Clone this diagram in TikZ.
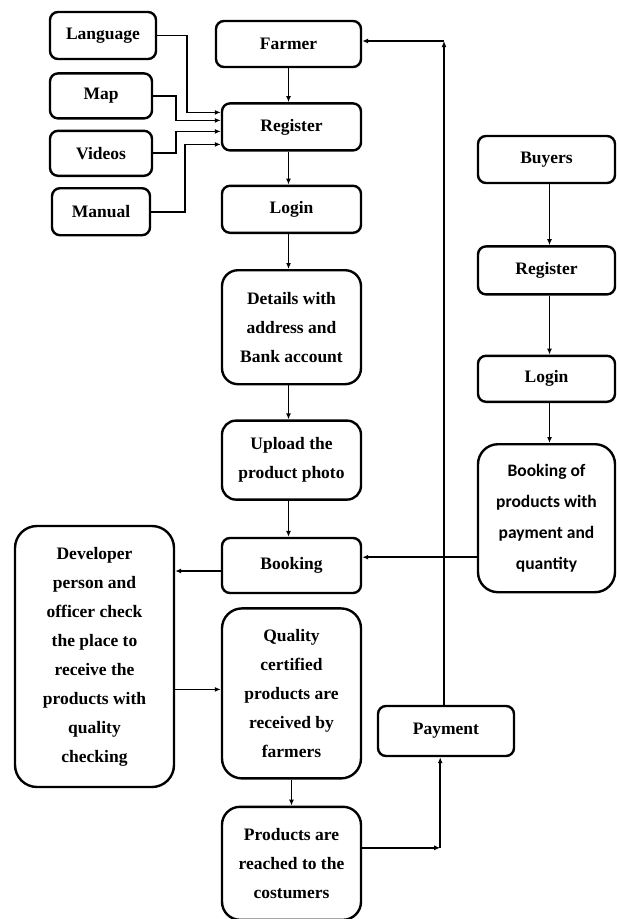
\documentclass[tikz,border=0pt]{standalone}
\usepackage{fontspec}
\setmainfont{Liberation Serif}
\newfontfamily\calfont{Carlito}
\usetikzlibrary{positioning,calc,arrows.meta}

\begin{document}
\begin{tikzpicture}[x=1pt,y=-1pt,
	box/.style={draw, line width=2.4pt, rounded corners=8pt, minimum width=139pt, minimum height=47pt,
		inner sep=2pt, align=center, font=\fontsize{17.5}{29}\selectfont\bfseries},
	tall/.style={box, rounded corners=20pt},
	conn/.style={line width=1.8pt, -{Latex[length=6pt,width=5pt]}}]
	\useasboundingbox (0,0) rectangle (617,919);

	% farmer side
	\node[box, minimum width=145pt, minimum height=46pt] (farmer) at (288.5,44) {Farmer};
	\node[box, below=34pt of farmer, xshift=3pt] (register) {Register};
	\node[box, below=33pt of register] (login) {Login};
	\node[tall, minimum height=114pt, rounded corners=16pt, below=35pt of login] (details) {Details with\\address and\\Bank account};
	\node[tall, minimum height=79pt, rounded corners=14pt, below=34pt of details] (upload) {Upload the\\product photo};
	\node[box, minimum height=55pt, below=36pt of upload] (booking) {Booking};
	\node[tall, minimum height=170pt, below=13pt of booking] (quality) {Quality\\certified\\products are\\received by\\farmers};
	\node[tall, minimum height=113pt, rounded corners=18pt, below=26pt of quality] (products) {Products are\\reached to the\\costumers};

	% help items
	\node[box, minimum width=106pt] (language) at (103,35.5) {Language};
	\node[box, minimum width=102pt, minimum height=45pt, below=12pt of language, xshift=-2pt] (map) {Map};
	\node[box, minimum width=102pt, minimum height=45pt, below=10pt of map] (videos) {Videos};
	\node[box, minimum width=98pt, below=10pt of videos] (manual) {Manual};

	\node[tall, minimum width=159pt, minimum height=261pt, rounded corners=22pt] (developer) at (94.5,656.5)
		{Developer\\person and\\officer check\\the place to\\receive the\\products with\\quality\\checking};
	\node[box, minimum width=136pt, minimum height=50pt] (payment) at (446,731) {Payment};

	% buyer side
	\node[box, minimum width=137pt] (buyers) at (546.5,159.5) {Buyers};
	\node[box, minimum width=137pt, minimum height=48pt, below=61pt of buyers] (bregister) {Register};
	\node[box, minimum width=137pt, minimum height=46pt, below=59pt of bregister] (blogin) {Login};
	\node[tall, minimum width=137pt, minimum height=148pt, below=40pt of blogin,
		font=\fontsize{17.5}{31}\selectfont\calfont\bfseries] (bbook) {Booking of\\products with\\payment and\\quantity};

	\coordinate (ret) at (444,41);
	\coordinate (bb) at ($(bbook.west)+(0,39)$);

	\draw[conn] (farmer.south -| register.north) ++(-3,0) -- ($(register.north)+(-3,0)$);
	\draw[conn] ($(register.south)+(-3,0)$) -- ($(login.north)+(-3,0)$);
	\draw[conn] ($(login.south)+(-3,0)$) -- ($(details.north)+(-3,0)$);
	\draw[conn] ($(details.south)+(-3,0)$) -- ($(upload.north)+(-3,0)$);
	\draw[conn] ($(upload.south)+(-3,0)$) -- ($(booking.north)+(-3,0)$);
	\draw[conn] (quality.south) -- (products.north);

	\draw[conn] (language.east) -- ++(30,0) |- ($(register.west)+(0,-14.5)$);
	\draw[conn] (map.east) -- ++(23,0) |- ($(register.west)+(0,-6.5)$);
	\draw[conn] (videos.east) -- ++(23,0) |- ($(register.west)+(0,4.5)$);
	\draw[conn] (manual.east) -- ++(34,0) |- ($(register.west)+(0,17.5)$);

	\draw[conn] ($(booking.west)+(0,5.5)$) -- ($(booking.west -| developer.east)+(0,5.5)$);
	\draw[conn] ($(quality.west -| developer.east)+(0,-4)$) -- ($(quality.west)+(0,-4)$);

	\draw[conn] ($(products.east)+(0,-15.5)$) -- ++(78,0) coordinate (pc);
	\draw[conn] (pc) -- (pc |- payment.south);
	\draw[conn] (payment.north -| ret) -- (ret);
	\draw[conn] (ret) -- (ret -| farmer.east);

	\draw[conn] ($(buyers.south)+(3,0)$) -- ($(bregister.north)+(3,0)$);
	\draw[conn] ($(bregister.south)+(3,0)$) -- ($(blogin.north)+(3,0)$);
	\draw[conn] ($(blogin.south)+(3,0)$) -- ($(bbook.north)+(3,0)$);
	\draw[conn] (bb) -- (bb -| booking.east);
\end{tikzpicture}
\end{document}
